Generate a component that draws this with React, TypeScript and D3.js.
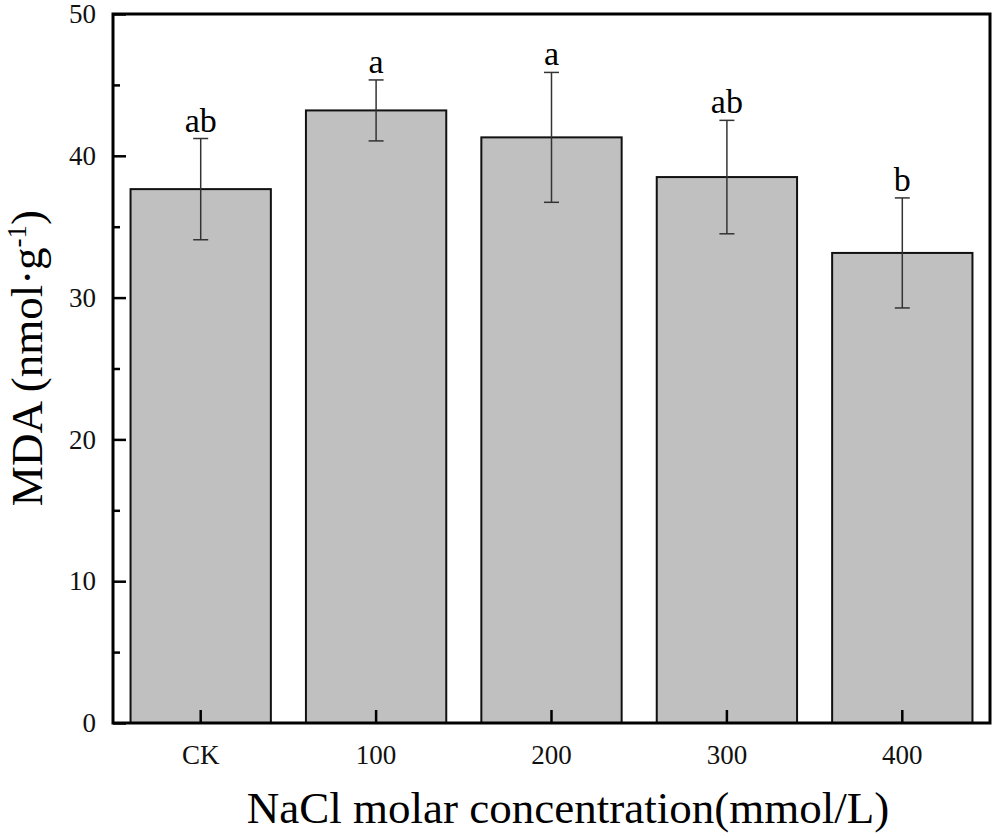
import React, { useEffect, useRef } from 'react';
import * as d3 from 'd3';

const categories = ['CK', '100', '200', '300', '400'];
const means = [37.65, 43.2, 41.3, 38.5, 33.15];
const errors = [3.57, 2.15, 4.58, 4.0, 3.88];
const letters = ['ab', 'a', 'a', 'ab', 'b'];
const yTicks = [0, 10, 20, 30, 40, 50];
const yMinorTicks = [5, 15, 25, 35, 45];

const width = 993;
const height = 838;
const margin = { top: 14, right: 3, bottom: 115, left: 113 };

const App: React.FC = () => {
  const container = useRef<SVGSVGElement>(null);

  useEffect(() => {
    const svg = d3.select(container.current);
    svg.selectAll('*').remove();

    const x = d3.scaleBand()
      .domain(categories)
      .range([margin.left, width - margin.right])
      .paddingInner(0.2)
      .paddingOuter(0.1);

    const y = d3.scaleLinear()
      .domain([0, 50])
      .range([height - margin.bottom, margin.top]);

    const serif = '"Liberation Serif", "Times New Roman", serif';
    const data = categories.map((c, i) => ({ c, m: means[i], e: errors[i], l: letters[i] }));

    // bars
    svg.append('g')
      .selectAll('rect')
      .data(data)
      .join('rect')
      .attr('x', (d) => x(d.c)!)
      .attr('y', (d) => y(d.m))
      .attr('width', x.bandwidth())
      .attr('height', (d) => y(0) - y(d.m))
      .attr('fill', '#c0c0c0')
      .attr('stroke', '#111')
      .attr('stroke-width', 2);

    // error bars
    const eb = svg.append('g').attr('stroke', '#333').attr('stroke-width', 1.5);
    data.forEach((d) => {
      const cx = x(d.c)! + x.bandwidth() / 2;
      eb.append('line').attr('x1', cx).attr('x2', cx).attr('y1', y(d.m + d.e)).attr('y2', y(d.m - d.e));
      [d.m + d.e, d.m - d.e].forEach((v) => {
        eb.append('line').attr('x1', cx - 7.5).attr('x2', cx + 7.5).attr('y1', y(v)).attr('y2', y(v));
      });
    });

    // significance letters
    svg.append('g')
      .selectAll('text')
      .data(data)
      .join('text')
      .attr('x', (d) => x(d.c)! + x.bandwidth() / 2)
      .attr('y', (d) => y(d.m + d.e) - 7)
      .attr('text-anchor', 'middle')
      .attr('font-family', serif)
      .attr('font-size', 34)
      .text((d) => d.l);

    // y axis
    const yAxis = d3.axisLeft(y).tickValues(yTicks).tickSize(-13).tickPadding(17);
    const gy = svg.append('g')
      .attr('transform', `translate(${margin.left},0)`)
      .call(yAxis);
    gy.select('.domain').remove();
    gy.selectAll('line').attr('stroke', '#000').attr('stroke-width', 2.5);
    gy.selectAll('text').attr('font-family', serif).attr('font-size', 27).attr('fill', '#111');

    const yMinor = d3.axisLeft(y).tickValues(yMinorTicks).tickSize(-7).tickFormat(() => '');
    const gym = svg.append('g')
      .attr('transform', `translate(${margin.left},0)`)
      .call(yMinor);
    gym.select('.domain').remove();
    gym.selectAll('line').attr('stroke', '#000').attr('stroke-width', 2.5);

    // x axis
    const xAxis = d3.axisBottom(x).tickSize(-13).tickPadding(22);
    const gx = svg.append('g')
      .attr('transform', `translate(0,${height - margin.bottom})`)
      .call(xAxis);
    gx.select('.domain').remove();
    gx.selectAll('line').attr('stroke', '#000').attr('stroke-width', 2.5);
    gx.selectAll('text').attr('font-family', serif).attr('font-size', 27).attr('fill', '#111');

    // frame
    svg.append('rect')
      .attr('x', margin.left)
      .attr('y', margin.top)
      .attr('width', width - margin.left - margin.right)
      .attr('height', height - margin.top - margin.bottom)
      .attr('fill', 'none')
      .attr('stroke', '#000')
      .attr('stroke-width', 3);

    // axis titles
    svg.append('text')
      .attr('x', 568)
      .attr('y', 823)
      .attr('text-anchor', 'middle')
      .attr('font-family', serif)
      .attr('font-size', 45)
      .text('NaCl molar concentration(mmol/L)');

    const yt = svg.append('text')
      .attr('transform', `translate(42,358) rotate(-90)`)
      .attr('text-anchor', 'middle')
      .attr('font-family', serif)
      .attr('font-size', 45);
    yt.append('tspan').text('MDA (nmol·g');
    yt.append('tspan').attr('font-size', 27).attr('dy', -16).text('-1');
    yt.append('tspan').attr('dy', 16).text(')');
  }, []);

  return (
    <svg
      ref={container}
      width={width}
      height={height}
      style={{ position: 'absolute', left: 0, top: 0, background: '#fff' }}
    />
  );
};

export default App;
